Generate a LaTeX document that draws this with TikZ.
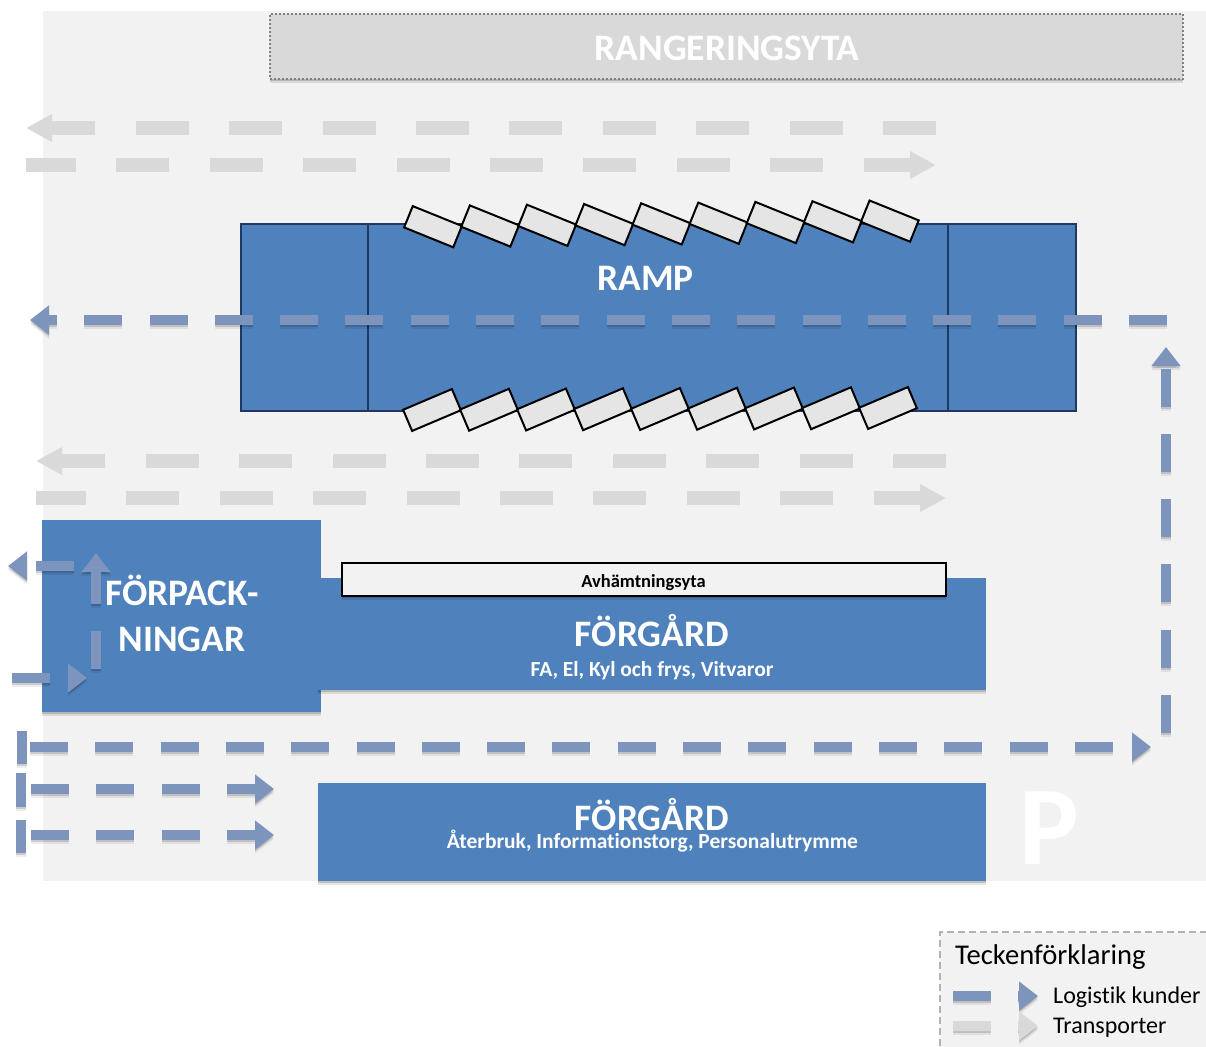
\documentclass[tikz,border=0pt]{standalone}
\usepackage{fontspec}
\setmainfont[Ligatures=CommonOff]{Carlito}
\usepackage{xcolor}
\usepackage{tikz}
\usetikzlibrary{arrows.meta,shadows}
\definecolor{hallblue}{HTML}{4F81BD}
\definecolor{hallnavy}{HTML}{1F3A60}
\definecolor{kundblue}{HTML}{7D94BC}
\definecolor{transgray}{HTML}{D9D9D9}
\definecolor{yardgray}{HTML}{F2F2F2}
\tikzset{
  kund/.style={draw=kundblue,line width=10pt,dash pattern=on 38pt off 27.3pt,
    preaction={draw=black,opacity=.14,line width=10pt,dash pattern=on 38pt off 27.3pt,transform canvas={yshift=-2pt}},
    preaction={draw=black,opacity=.07,line width=10pt,dash pattern=on 38pt off 27.3pt,transform canvas={yshift=-4pt}}},
  trans/.style={draw=transgray,line width=14pt,dash pattern=on 53pt off 40.4pt},
  kundtip/.style={-{Triangle[length=19pt,width=28pt]}},
  transtip/.style={-{Triangle[length=26pt,width=26pt]}},
  flatblock/.style={fill=hallblue,anchor=north west,inner sep=0pt,outer sep=0pt},
  block/.style={flatblock,
    drop shadow={shadow xshift=0pt,shadow yshift=-4pt,opacity=.1,fill=black},
    drop shadow={shadow xshift=0pt,shadow yshift=-2pt,opacity=.16,fill=black}},
  title/.style={text=white,anchor=base,font=\fontsize{37.4}{37}\selectfont\bfseries,inner sep=0pt},
  sublabel/.style={text=white,anchor=base,font=\fontsize{21.5}{21}\selectfont\bfseries,inner sep=0pt},
  door/.style={draw=black,line width=2pt,fill=black!10,minimum width=53pt,minimum height=23pt,inner sep=0pt},
  legendtext/.style={anchor=base west,inner sep=0pt,font=\fontsize{24}{24}\selectfont}
}
\begin{document}
\begin{tikzpicture}[x=1pt,y=-1pt]
\useasboundingbox (0,0) rectangle (1206,1046);
\fill[yardgray] (43,11) rectangle (1206,881);
\node[block,fill=transgray,draw=black!50,dash pattern=on 2pt off 2pt,line width=2pt,minimum width=913pt,minimum height=65pt] (rangering) at (270,14) {};
\node[title] at (727,61) {RANGERINGSYTA};
% transport lanes
\foreach \nr/\dx/\ya/\yb in {upper/0/128/165,lower/10/461/498}{
  \coordinate (\nr Ea) at (936+\dx,\ya);
  \coordinate (\nr Wa) at (26+\dx,\ya);
  \coordinate (\nr Wb) at (26+\dx,\yb);
  \coordinate (\nr Eb) at (936+\dx,\yb);
  \draw[trans,transtip] (\nr Ea) -- (\nr Wa);
  \draw[trans,transtip,dash phase=3pt] (\nr Wb) -- (\nr Eb);
}
% ramp
\node[flatblock,draw=hallnavy,line width=2pt,minimum width=835pt,minimum height=187pt] (ramp) at (241,224) {};
\coordinate (divAtop) at (368,224);
\coordinate (divAbot) at (368,411);
\coordinate (divBtop) at (948,224);
\coordinate (divBbot) at (948,411);
\draw[hallnavy,line width=2pt] (divAtop) -- (divAbot);
\draw[hallnavy,line width=2pt] (divBtop) -- (divBbot);
\node[title] at (645.5,290) {RAMP};
\foreach \i in {0,...,8}{
  \node[door,rotate=-22] (doorN\i) at (433+57.1*\i,226.7-0.7*\i) {};
  \node[door,rotate=23] (doorS\i) at (432+57*\i,410-0.25*\i) {};
}
% buildings
\node[block,minimum width=279pt,minimum height=192pt] (pack) at (42,520) {};
\node[title] at (182,605.5) {FÖRPACK-};
\node[title] at (182,651.5) {NINGAR};
\node[block,minimum width=668pt,minimum height=112pt] (yardA) at (318,578) {};
\node[title] at (652,646.5) {FÖRGÅRD};
\node[sublabel] at (652,676) {FA, El, Kyl och frys, Vitvaror};
\node[block,fill=yardgray,draw=black,line width=2pt,minimum width=604pt,minimum height=33pt] (pickup) at (342,563) {};
\node[anchor=base,inner sep=0pt,font=\fontsize{18.5}{18}\selectfont\bfseries] at (643.5,587) {Avhämtningsyta};
\node[block,minimum width=668pt,minimum height=98pt] (yardB) at (318,783) {};
\node[title] at (652,830) {FÖRGÅRD};
\node[sublabel] at (652.5,848) {Återbruk, Informationstorg, Personalutrymme};
\node[text=white,anchor=base,inner sep=0pt,font=\fontsize{112}{112}\selectfont\bfseries] (parking) at (1049,864) {P};
% customer lanes
\coordinate (rampE) at (1167,320);
\coordinate (rampW) at (30,320);
\draw[kund,kundtip] (rampE) -- (rampW);
\coordinate (sideS) at (1166,733);
\coordinate (sideN) at (1166,347);
\draw[kund,kundtip] (sideS) -- (sideN);
\coordinate (mainW) at (30,747);
\coordinate (mainE) at (1151,747);
\draw[kund,kundtip] (mainW) -- (mainE);
\foreach \nr/\yy in {a/789,b/835}{
  \coordinate (laneW\nr) at (31,\yy);
  \coordinate (laneE\nr) at (274,\yy);
  \draw[kund,kundtip] (laneW\nr) -- (laneE\nr);
}
\foreach \nr/\xx/\ya/\yb in {a/22/731/764,b/21/773/807,c/21/820/853}{
  \coordinate (barT\nr) at (\xx,\ya);
  \coordinate (barB\nr) at (\xx,\yb);
  \draw[kund] (barT\nr) -- (barB\nr);
}
\coordinate (packInW) at (12,678);
\coordinate (packInE) at (87,678);
\draw[kund,kundtip] (packInW) -- (packInE);
\coordinate (packS) at (96,669);
\coordinate (packN) at (96,553);
\draw[kund,kundtip] (packS) -- (packN);
\coordinate (packOutE) at (74,566);
\coordinate (packOutW) at (8,566);
\draw[kund,kundtip] (packOutE) -- (packOutW);
% legend
\node[flatblock,fill=yardgray,draw=black!30,dash pattern=on 7pt off 4pt,line width=1.5pt,minimum width=300pt,minimum height=140pt] (legend) at (940,932) {};
\node[anchor=base west,inner sep=0pt,font=\fontsize{28.6}{28}\selectfont] (legendtitle) at (955,964) {Teckenförklaring};
\coordinate (legKa) at (953,996);
\coordinate (legKb) at (1038,996);
\draw[kund,kundtip] (legKa) -- (legKb);
\node[legendtext] at (1053,1003) {Logistik kunder};
\coordinate (legTa) at (953,1026);
\coordinate (legTb) at (1038,1026);
\draw[kund,kundtip,draw=transgray] (legTa) -- (legTb);
\node[legendtext] at (1053,1033) {Transporter};
\end{tikzpicture}
\end{document}
